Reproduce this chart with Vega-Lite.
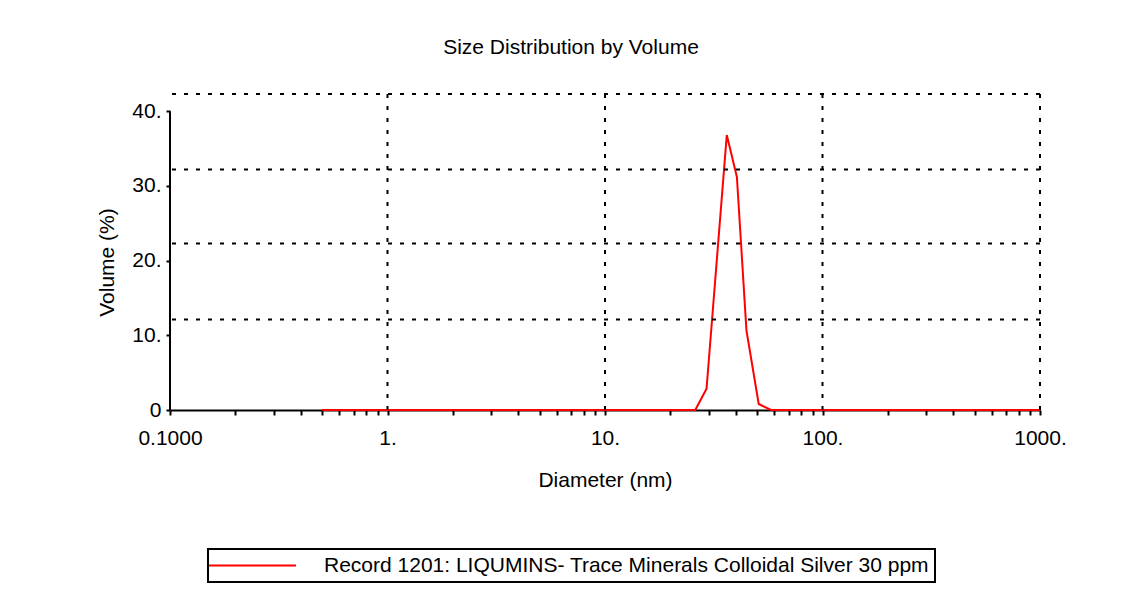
{
  "$schema": "https://vega.github.io/schema/vega-lite/v6.json",
  "autosize": {"type": "none"},
  "padding": {"left": 170, "top": 94, "right": 82, "bottom": 190},
  "width": 870,
  "height": 316,
  "background": "white",
  "title": {
    "text": "Size Distribution by Volume",
    "font": "Liberation Sans",
    "fontSize": 21,
    "fontWeight": "normal",
    "color": "black",
    "anchor": "middle",
    "dx": -34,
    "baseline": "alphabetic",
    "offset": 18
  },
  "datasets": {
    "curve": [
      {"series": "Record 1201: LIQUMINS- Trace Minerals Colloidal Silver 30 ppm", "d": 0.5, "v": 0},
      {"series": "Record 1201: LIQUMINS- Trace Minerals Colloidal Silver 30 ppm", "d": 1.0, "v": 0},
      {"series": "Record 1201: LIQUMINS- Trace Minerals Colloidal Silver 30 ppm", "d": 5.0, "v": 0},
      {"series": "Record 1201: LIQUMINS- Trace Minerals Colloidal Silver 30 ppm", "d": 10.0, "v": 0},
      {"series": "Record 1201: LIQUMINS- Trace Minerals Colloidal Silver 30 ppm", "d": 20.0, "v": 0},
      {"series": "Record 1201: LIQUMINS- Trace Minerals Colloidal Silver 30 ppm", "d": 26.0, "v": 0},
      {"series": "Record 1201: LIQUMINS- Trace Minerals Colloidal Silver 30 ppm", "d": 29.3, "v": 2.84},
      {"series": "Record 1201: LIQUMINS- Trace Minerals Colloidal Silver 30 ppm", "d": 36.3, "v": 36.8},
      {"series": "Record 1201: LIQUMINS- Trace Minerals Colloidal Silver 30 ppm", "d": 40.4, "v": 31.2},
      {"series": "Record 1201: LIQUMINS- Trace Minerals Colloidal Silver 30 ppm", "d": 44.7, "v": 10.66},
      {"series": "Record 1201: LIQUMINS- Trace Minerals Colloidal Silver 30 ppm", "d": 50.9, "v": 0.8},
      {"series": "Record 1201: LIQUMINS- Trace Minerals Colloidal Silver 30 ppm", "d": 58.0, "v": 0},
      {"series": "Record 1201: LIQUMINS- Trace Minerals Colloidal Silver 30 ppm", "d": 100.0, "v": 0},
      {"series": "Record 1201: LIQUMINS- Trace Minerals Colloidal Silver 30 ppm", "d": 500.0, "v": 0},
      {"series": "Record 1201: LIQUMINS- Trace Minerals Colloidal Silver 30 ppm", "d": 1000.0, "v": 0}
    ],
    "hgrid": [{"gy": 12.1}, {"gy": 22.3}, {"gy": 32.2}, {"gy": 42.3}],
    "vgrid": [{"gx": 1}, {"gx": 10}, {"gx": 100}, {"gx": 1000}],
    "yline": [{"ax": 0.1, "a0": 0, "a1": 40}]
  },
  "layer": [
    {
      "data": {"name": "curve"},
      "mark": {"type": "line", "strokeWidth": 2, "interpolate": "linear"},
      "encoding": {
        "x": {
          "field": "d", "type": "quantitative", "title": "Diameter (nm)",
          "scale": {"type": "log", "domain": [0.1, 1000], "nice": false},
          "axis": {
            "values": [0.1, 0.2, 0.3, 0.4, 0.5, 0.6, 0.7, 0.8, 0.9, 1, 2, 3, 4, 5, 6, 7, 8, 9, 10, 20, 30, 40, 50, 60, 70, 80, 90, 100, 200, 300, 400, 500, 600, 700, 800, 900, 1000],
            "labelExpr": "indexof([0.1, 1, 10, 100, 1000], datum.value) >= 0 ? (datum.value < 1 ? '0.1000' : datum.value + '.') : ''",
            "labelOverlap": false,
            "labelFlush": false,
            "grid": false,
            "domain": true,
            "domainColor": "black",
            "domainWidth": 2,
            "tickColor": "black",
            "tickWidth": 2,
            "tickSize": 5,
            "labelPadding": 12,
            "labelFont": "Liberation Sans",
            "labelFontSize": 21,
            "labelColor": "black",
            "titleFont": "Liberation Sans",
            "titleFontSize": 21,
            "titleFontWeight": "normal",
            "titleColor": "black",
            "titlePadding": 21
          }
        },
        "y": {
          "field": "v", "type": "quantitative", "title": "Volume (%)",
          "scale": {"domain": [0, 42.3], "nice": false, "zero": true},
          "axis": {
            "values": [0, 5, 10, 15, 20, 25, 30, 35, 40],
            "labelExpr": "datum.value % 10 == 0 ? (datum.value == 0 ? '0' : datum.value + '.') : ''",
            "labelOverlap": false,
            "labelFlush": false,
            "grid": false,
            "domain": false,
            "tickColor": "black",
            "tickWidth": 2,
            "tickSize": 4,
            "labelPadding": 5,
            "labelFont": "Liberation Sans",
            "labelFontSize": 21,
            "labelColor": "black",
            "titleFont": "Liberation Sans",
            "titleFontSize": 21,
            "titleFontWeight": "normal",
            "titleColor": "black",
            "titlePadding": 14,
            "titleY": 168
          }
        },
        "color": {
          "field": "series", "type": "nominal",
          "scale": {"range": ["#ff0000"]},
          "legend": {
            "title": null,
            "orient": "none",
            "legendX": 38,
            "legendY": 455,
            "symbolType": "M-2.818,0H13.0",
            "symbolSize": 121,
            "symbolStrokeWidth": 2,
            "labelFont": "Liberation Sans",
            "labelFontSize": 21,
            "labelColor": "black",
            "labelOffset": 89,
            "labelLimit": 0,
            "padding": 6,
            "strokeColor": "black"
          }
        }
      }
    },
    {
      "data": {"name": "hgrid"},
      "mark": {"type": "rule", "color": "black", "strokeWidth": 2, "strokeDash": [4, 8]},
      "encoding": {
        "y": {"field": "gy", "type": "quantitative", "title": "Volume (%)", "scale": {"domain": [0, 42.3], "nice": false, "zero": true}}
      }
    },
    {
      "data": {"name": "vgrid"},
      "mark": {"type": "rule", "color": "black", "strokeWidth": 2, "strokeDash": [4, 8]},
      "encoding": {
        "x": {"field": "gx", "type": "quantitative", "title": "Diameter (nm)", "scale": {"type": "log", "domain": [0.1, 1000], "nice": false}}
      }
    },
    {
      "data": {"name": "yline"},
      "mark": {"type": "rule", "color": "black", "strokeWidth": 2},
      "encoding": {
        "x": {"field": "ax", "type": "quantitative", "title": "Diameter (nm)", "scale": {"type": "log", "domain": [0.1, 1000], "nice": false}},
        "y": {"field": "a0", "type": "quantitative", "title": "Volume (%)", "scale": {"domain": [0, 42.3], "nice": false, "zero": true}},
        "y2": {"field": "a1"}
      }
    }
  ],
  "config": {
    "view": {"stroke": null},
    "font": "Liberation Sans",
    "legend": {"strokeWidth": 2}
  }
}
